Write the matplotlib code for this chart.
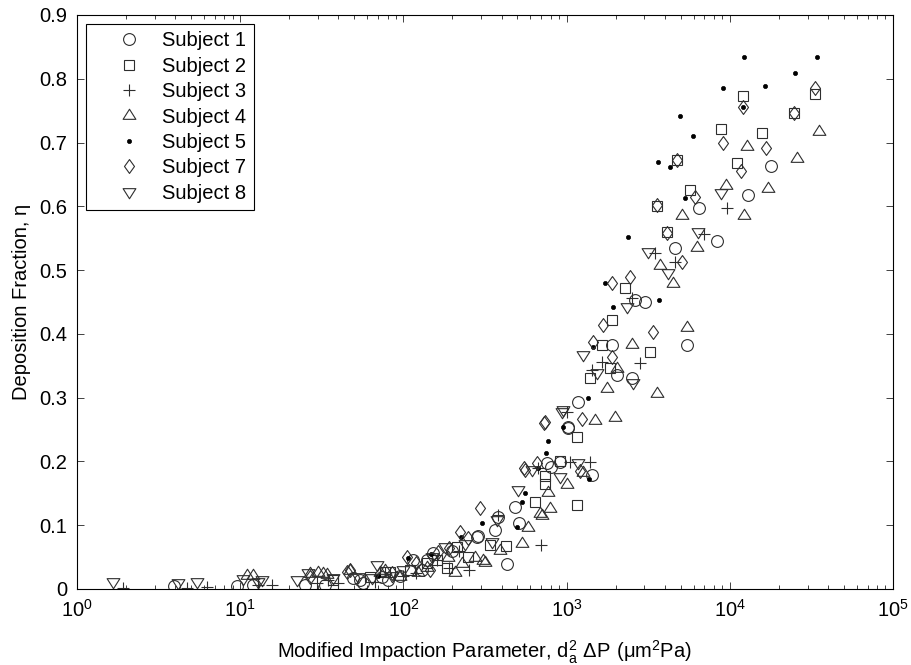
import matplotlib
matplotlib.use("Agg")
import matplotlib.pyplot as plt
from matplotlib.path import Path

plt.rcParams["font.family"] = ["Liberation Sans", "DejaVu Sans"]
plt.rcParams["mathtext.default"] = "regular"
plt.rcParams["font.size"] = 14.5

# ── Данные (по субъектам) ──
s1_x = [3.93, 9.56, 12.0, 25, 33, 49, 54, 56.5, 74, 80.5, 95, 115, 130, 140, 152, 200, 282,
        286, 364, 380, 432, 483, 511, 759, 802, 912, 1020, 1020, 1175, 1430, 1897, 2037,
        2515, 2625, 3021, 4615, 5464, 6475, 8350, 12930, 17880]
s1_y = [0.005, 0.005, 0.006, 0.006, 0.006, 0.017, 0.014, 0.009, 0.019, 0.014, 0.020, 0.045,
        0.030, 0.045, 0.056, 0.060, 0.082, 0.083, 0.093, 0.113, 0.039, 0.129, 0.104, 0.198,
        0.191, 0.199, 0.254, 0.252, 0.293, 0.179, 0.383, 0.336, 0.331, 0.453, 0.450, 0.535,
        0.383, 0.597, 0.546, 0.618, 0.663]

s2_x = [37, 62.4, 77, 82.8, 110, 140, 160, 185, 213, 250, 340, 425, 640, 738, 738, 912, 1160,
        1160, 1390, 1650, 1845, 1897, 2280, 3244, 3580, 4120, 4746, 5700, 8836, 11070, 12050,
        15740, 24720, 33270]
s2_y = [0.014, 0.019, 0.027, 0.027, 0.030, 0.040, 0.045, 0.033, 0.066, 0.050, 0.069, 0.067,
        0.136, 0.177, 0.165, 0.201, 0.132, 0.238, 0.331, 0.383, 0.347, 0.422, 0.472, 0.372,
        0.600, 0.560, 0.673, 0.626, 0.721, 0.668, 0.773, 0.715, 0.746, 0.776]

s3_x = [1.91, 4.72, 6.26, 12.9, 15.7, 29.5, 34.5, 39.7, 67, 100, 120, 160, 190, 220, 252,
        380, 668, 697, 1005, 1050, 1390, 1430, 1650, 2515, 2817, 3480, 4615, 6950, 9610]
s3_y = [0.002, 0.001, 0.003, 0.006, 0.006, 0.009, 0.014, 0.009, 0.011, 0.020, 0.025, 0.045,
        0.033, 0.060, 0.030, 0.116, 0.190, 0.069, 0.278, 0.199, 0.199, 0.343, 0.356, 0.456,
        0.354, 0.527, 0.513, 0.557, 0.597]

s4_x = [11.0, 12.0, 26.8, 30, 32.2, 34, 47, 72, 77, 95, 123, 140, 188, 207, 230, 275, 307,
        316, 391, 533, 580, 687, 707, 769, 791, 1005, 1260, 1494, 1770, 1980, 2037, 2515,
        3580, 3734, 4486, 5093, 5464, 6295, 9480, 12220, 12740, 17130, 25830, 35240]
s4_y = [0.022, 0.022, 0.025, 0.027, 0.025, 0.024, 0.030, 0.027, 0.030, 0.020, 0.027, 0.035,
        0.050, 0.027, 0.040, 0.050, 0.045, 0.042, 0.061, 0.072, 0.097, 0.119, 0.116, 0.152,
        0.127, 0.165, 0.183, 0.265, 0.315, 0.270, 0.347, 0.384, 0.307, 0.508, 0.480, 0.586,
        0.411, 0.536, 0.633, 0.586, 0.695, 0.628, 0.675, 0.718]

s5_x = [70, 107, 148, 225, 303, 497, 533, 556, 668, 750, 769, 950, 1350, 1380, 1452, 1718,
        1924, 2377, 3630, 3681, 4302, 4951, 5312, 5950, 9085, 12050, 12220, 16430, 25100,
        34220]
s5_y = [0.020, 0.048, 0.055, 0.082, 0.103, 0.097, 0.137, 0.150, 0.190, 0.213, 0.232, 0.254,
        0.300, 0.172, 0.380, 0.480, 0.442, 0.552, 0.670, 0.453, 0.662, 0.742, 0.613, 0.710,
        0.786, 0.756, 0.834, 0.789, 0.809, 0.834]

s7_x = [26.8, 45, 47, 85, 105, 120, 146, 163, 190, 222, 249, 295, 548, 556, 659, 727, 738,
        1210, 1243, 1452, 1672, 1897, 1897, 2445, 3383, 3580, 4120, 4746, 5093, 6120, 9085,
        11710, 12050, 16660, 24720, 33270]
s7_y = [0.019, 0.027, 0.030, 0.025, 0.050, 0.040, 0.030, 0.058, 0.065, 0.089, 0.080, 0.127,
        0.190, 0.187, 0.198, 0.260, 0.262, 0.185, 0.266, 0.387, 0.414, 0.364, 0.480, 0.489,
        0.403, 0.602, 0.558, 0.672, 0.513, 0.615, 0.699, 0.655, 0.756, 0.691, 0.746, 0.785]

s8_x = [1.66, 4.16, 5.44, 10.4, 12.9, 13.6, 22.3, 26, 37, 52.7, 64, 69, 85, 100, 150, 180,
        240, 349, 375, 504, 614, 912, 937, 950, 1175, 1260, 1540, 2344, 2552, 3153, 4180,
        6384, 8836]
s8_y = [0.011, 0.009, 0.011, 0.016, 0.011, 0.014, 0.014, 0.025, 0.017, 0.019, 0.017, 0.038,
        0.020, 0.030, 0.050, 0.066, 0.070, 0.074, 0.108, 0.155, 0.187, 0.176, 0.278, 0.281,
        0.198, 0.367, 0.338, 0.442, 0.323, 0.528, 0.495, 0.560, 0.621]

labels = ["Subject 1", "Subject 2", "Subject 3", "Subject 4",
          "Subject 5", "Subject 7", "Subject 8"]

# маркеры в стиле MATLAB: ромб выше, чем шире; треугольники шире, чем выше
_closed = [Path.MOVETO, Path.LINETO, Path.LINETO, Path.LINETO, Path.CLOSEPOLY]
diamond = Path([(0, 1), (0.72, 0), (0, -1), (-0.72, 0), (0, 1)], _closed)
_tri = [Path.MOVETO, Path.LINETO, Path.LINETO, Path.CLOSEPOLY]
tri_up = Path([(-1, -0.6), (1, -0.6), (0, 0.98), (-1, -0.6)], _tri)
tri_down = Path([(-1, 0.6), (1, 0.6), (0, -0.98), (-1, 0.6)], _tri)

series = [
    (s1_x, s1_y, "o", 8.5),
    (s2_x, s2_y, "s", 7.0),
    (s3_x, s3_y, "+", 8.5),
    (s4_x, s4_y, tri_up, 9.2),
    (s5_x, s5_y, "o", 3.0),
    (s7_x, s7_y, diamond, 10.0),
    (s8_x, s8_y, tri_down, 9.2),
]

fig = plt.figure(figsize=(9.12, 6.65), dpi=100)
ax = fig.add_axes([0.0844, 0.1143, 0.8947, 0.8632])

ink = "#2e2e2e"
for i, ((xs, ys, m, ms), lab) in enumerate(zip(series, labels)):
    dot = (i == 4)
    ax.plot(xs, ys, linestyle="none", marker=m, markersize=ms,
            markerfacecolor="black" if dot else "none",
            markeredgecolor="black" if dot else ink,
            markeredgewidth=0.5 if dot else 0.8, label=lab)

ax.set_xscale("log")
ax.set_xlim(1, 1e5)
ax.set_ylim(0, 0.9)
ax.set_yticks([0, 0.1, 0.2, 0.3, 0.4, 0.5, 0.6, 0.7, 0.8, 0.9])
ax.set_yticklabels(["0", "0.1", "0.2", "0.3", "0.4", "0.5", "0.6", "0.7", "0.8", "0.9"])

ax.tick_params(which="both", direction="in", top=True, right=True, labelsize=14.5,
               width=0.6, color="#222222")
ax.tick_params(which="major", length=5)
ax.tick_params(which="minor", length=3)
ax.tick_params(axis="x", pad=7)
ax.tick_params(axis="y", pad=7)
ax.tick_params(axis="y", which="minor", left=False, right=False)
for s in ax.spines.values():
    s.set_linewidth(0.8)

ax.set_xlabel(r"Modified Impaction Parameter, $d_a^2\ \Delta P\ (\mu m^2Pa)$",
              fontsize=14.5, labelpad=13)
ax.set_ylabel("Deposition Fraction, η", fontsize=14.5, labelpad=6)

leg = ax.legend(loc="upper left", bbox_to_anchor=(0.011, 0.984), borderaxespad=0,
                fancybox=False, edgecolor="black", framealpha=1, numpoints=1,
                fontsize=14.5, labelspacing=0.32, handlelength=3.6, handletextpad=-0.15,
                borderpad=0.35)
leg.get_frame().set_linewidth(0.8)

fig.savefig("out.png", dpi=100)
